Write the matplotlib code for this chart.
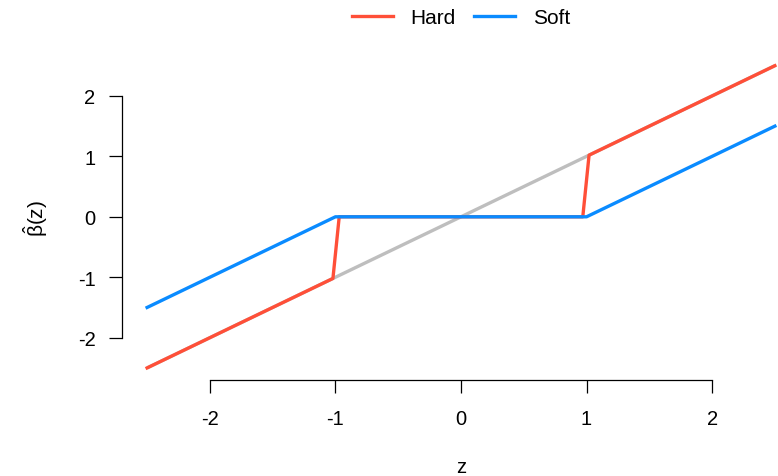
import matplotlib

matplotlib.use("Agg")
import matplotlib.pyplot as plt

plt.rcParams["font.family"] = ["Liberation Sans", "DejaVu Sans"]
plt.rcParams["mathtext.fontset"] = "custom"
plt.rcParams["mathtext.rm"] = "Liberation Sans"
plt.rcParams["mathtext.it"] = "Liberation Sans"

# piecewise-linear vertices
z_ident = [-2.5, 2.5]
b_ident = [-2.5, 2.5]
z_hard = [-2.5, -1.02, -0.97, 0.97, 1.02, 2.5]
b_hard = [-2.5, -1.02, 0.0, 0.0, 1.02, 2.5]
z_soft = [-2.5, -1.0, 1.0, 2.5]
b_soft = [-1.5, 0.0, 0.0, 1.5]
ticks = [-2, -1, 0, 1, 2]

RED = "#FF4F38"
BLUE = "#0A8BFF"
GRAY = "#BEBEBE"

W, H = 778, 477
fig = plt.figure(figsize=(W / 100, H / 100), dpi=100)
# plot region extends past the right edge, as in the reference
ax = fig.add_axes([122 / W, 96 / H, 678 / W, 326.4 / H])
ax.set_xlim(-2.7, 2.7)
ax.set_ylim(-2.7, 2.7)

ax.plot(z_ident, b_ident, color=GRAY, lw=2.4, solid_capstyle="butt")
ax.plot(z_hard, b_hard, color=RED, lw=2.4, label="Hard")
ax.plot(z_soft, b_soft, color=BLUE, lw=2.4, label="Soft")

for s in ["top", "right"]:
    ax.spines[s].set_visible(False)
ax.spines["left"].set_bounds(-2, 2)
ax.spines["bottom"].set_bounds(-2, 2)
for s in ["left", "bottom"]:
    ax.spines[s].set_linewidth(0.9)
ax.set_xticks(ticks)
ax.set_yticks(ticks)
ax.set_xticklabels([str(t) for t in ticks])
ax.set_yticklabels([str(t) for t in ticks])
ax.tick_params(axis="x", length=9.5, width=0.9, pad=11.5, labelsize=14.5)
ax.tick_params(axis="y", length=9.5, width=0.9, pad=9.5, labelsize=14.5)

fig.text(461 / W, 1 - 468 / H, "z", ha="center", va="center", fontsize=14.5)
fig.text(36 / W, 1 - 218 / H, r"$\hat{\beta}$(z)", ha="center", va="center",
         rotation=90, fontsize=15)

fig.legend(loc="center", bbox_to_anchor=(461 / W, 1 - 18.5 / H), ncol=2,
           frameon=False, fontsize=15, handlelength=1.95, handletextpad=0.85,
           columnspacing=0.9, borderpad=0)

fig.savefig("out.png", dpi=100)
